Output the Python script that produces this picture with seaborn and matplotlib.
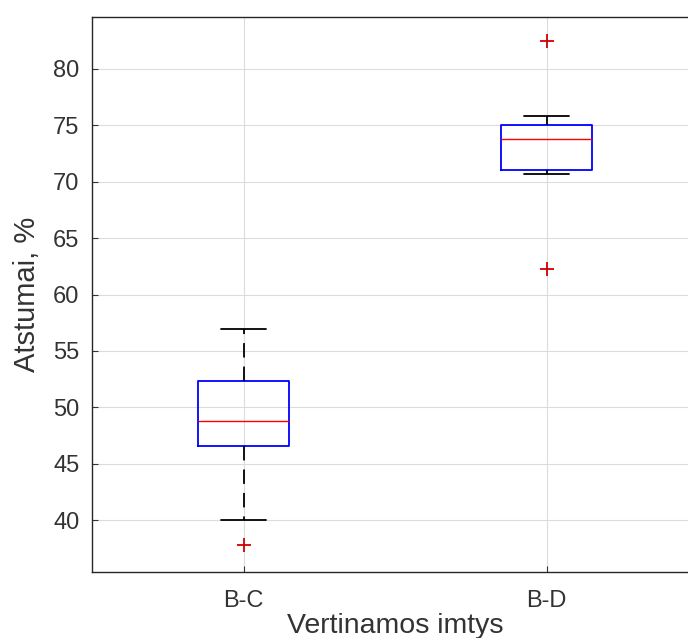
import pandas as pd
import matplotlib.pyplot as plt
import seaborn as sns

# Atstumai (%) kiekvienai vertinamai imčiai
bc_vals = [37.8, 40.0, 46.6, 47.6, 48.8, 50.6, 52.3, 54.2, 56.9]
bd_vals = [62.3, 70.7, 71.0, 72.4, 73.8, 74.4, 75.0, 75.8, 82.5]
groups = ['B-C', 'B-D']

df = pd.DataFrame({
    'Imtis': [groups[0]] * len(bc_vals) + [groups[1]] * len(bd_vals),
    'Atstumas': bc_vals + bd_vals,
})

sns.set_style('white')
plt.rcParams['font.family'] = ['Liberation Sans', 'DejaVu Sans']

fig = plt.figure(figsize=(6.88, 6.38), dpi=100)
ax = fig.add_axes([0.1337, 0.1034, 0.881, 0.870])

sns.boxplot(
    data=df, x='Imtis', y='Atstumas', order=groups,
    fill=False, width=0.3, whis=1.5, ax=ax,
    boxprops=dict(color='blue', linewidth=1.3),
    medianprops=dict(color='red', linewidth=1.0),
    whiskerprops=dict(color='black', linestyle=(0, (8, 5)), linewidth=1.3),
    capprops=dict(color='black', linewidth=1.3),
    flierprops=dict(marker='+', markeredgecolor='#d00000', markersize=10,
                    markeredgewidth=1.3),
)
ax.set_xlim(-0.5, 1.5)
ax.set_ylim(35.4, 84.6)
ax.set_yticks(range(40, 85, 5))
ax.grid(True, color='#dcdcdc', linewidth=0.8)
ax.set_axisbelow(True)
for s in ax.spines.values():
    s.set_color('#262626')
    s.set_linewidth(1.0)
ax.tick_params(direction='in', length=4, labelsize=17, colors='#333333',
               left=True, bottom=True)
ax.tick_params(axis='y', pad=9)
ax.tick_params(axis='x', pad=13)
ax.set_xlabel('Vertinamos imtys', fontsize=20.5, color='#333333', labelpad=1)
ax.set_ylabel('Atstumai, %', fontsize=21, color='#333333', labelpad=9)

fig.savefig('out.png', dpi=100)
